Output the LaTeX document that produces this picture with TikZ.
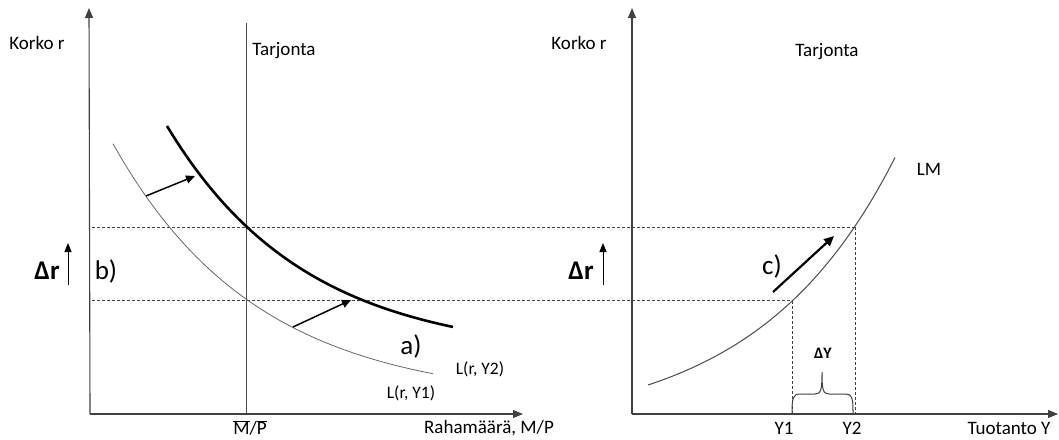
\documentclass[tikz,border=0pt]{standalone}
\usepackage{fontspec}
\setmainfont{Carlito}
\usetikzlibrary{arrows.meta}
\tikzset{
  axis/.style={draw=black!75, line width=1.1pt, -{Triangle[length=10pt,width=8pt]}},
  supply/.style={draw=black!70, line width=1pt},
  guide/.style={draw=black!75, line width=0.7pt, dash pattern=on 3pt off 2pt},
  thincurve/.style={draw=black!60, line width=0.8pt},
  thickcurve/.style={draw=black, line width=2.6pt},
  lmcurve/.style={draw=black!70, line width=1pt},
  shift arrow/.style={draw=black, line width=1.5pt, -{Triangle[length=9pt,width=8pt]}},
  big arrow/.style={draw=black, line width=2.2pt, -{Triangle[length=10pt,width=9pt]}},
  up arrow/.style={draw=black, line width=1pt, -{Triangle[length=9pt,width=7pt]}},
  lab/.style={inner sep=0pt, font=\fontsize{19}{22}\selectfont},
  llab/.style={inner sep=0pt, font=\fontsize{17.5}{20}\selectfont},
  biglab/.style={inner sep=0pt, font=\fontsize{27}{32}\selectfont},
  dlab/.style={inner sep=0pt, font=\bfseries\fontsize{27}{30}\selectfont},
  dylab/.style={inner sep=0pt, font=\bfseries\fontsize{16}{18}\selectfont},
}
\begin{document}
\begin{tikzpicture}[x=1pt,y=-1pt]
\useasboundingbox (0,0) rectangle (1059,439);
% ---------- left panel ----------
\coordinate (O1) at (90,414);
\coordinate (Y1top) at (89,8);
\coordinate (X1end) at (523,414);
\coordinate (S1top) at (246,23);
\coordinate (S1bot) at (246,414);
\coordinate (H2a) at (92,227);
\coordinate (H2b) at (855,227);
\coordinate (H1a) at (92,300);
\coordinate (H1b) at (792,300);
\draw[guide] (H2a) -- (H2b);
\draw[guide] (H1a) -- (H1b);
\draw[axis] (O1) -- (Y1top);
\draw[axis] (O1) -- (X1end);
\draw[supply] (S1top) -- (S1bot);
\draw[thincurve] plot[domain=113:433, samples=80, smooth] (\x, {402 - 258.3*exp(-0.00691*(\x-113))});
\draw[thickcurve] plot[domain=167:453, samples=80, smooth] (\x, {356 - 230*exp(-0.00723*(\x-167))});
\coordinate (a1s) at (146,196);
\coordinate (a1e) at (195,176);
\coordinate (a2s) at (293,327);
\coordinate (a2e) at (351,300);
\draw[shift arrow] (a1s) -- (a1e);
\draw[shift arrow] (a2s) -- (a2e);
\node[lab] (korko1) at (37,43) {Korko r};
\node[lab] (tarj1) at (284,51) {Tarjonta};
\node[dlab] (dr1) at (47,271) {Δr};
\coordinate (dr1b) at (68,285);
\coordinate (dr1t) at (68,243);
\draw[up arrow] (dr1b) -- (dr1t);
\node[biglab] (b) at (106,271) {b)};
\node[biglab] (a) at (411,346) {a)};
\node[llab] (LY2) at (480,369) {L(r, Y2)};
\node[llab] (LY1) at (411,393) {L(r, Y1)};
\node[lab] (MP) at (250,428) {$\overline{\mbox{M}}$/$\overline{\mbox{P}}$};
\node[lab] (raha) at (489,428) {Rahamäärä, M/P};
% ---------- right panel ----------
\coordinate (O2) at (632,414);
\coordinate (Y2top) at (632,8);
\coordinate (X2end) at (1058,414);
\draw[axis] (O2) -- (Y2top);
\draw[axis] (O2) -- (X2end);
\coordinate (P1) at (792,301);
\coordinate (P2) at (855,227);
\coordinate (P1b) at (792,414);
\coordinate (P2b) at (855,414);
\draw[guide] (P1) -- (P1b);
\draw[guide] (P2) -- (P2b);
\draw[lmcurve] plot[domain=648:895, samples=80, smooth] (\x, {430.6 - 45.6*exp(0.00725*(\x-648))});
\node[lab] (korko2) at (579,43) {Korko r};
\node[lab] (tarj2) at (827,52) {Tarjonta};
\node[lab] (LM) at (929,169) {LM};
\node[dlab] (dr2) at (581,271) {Δr};
\coordinate (dr2b) at (603,285);
\coordinate (dr2t) at (603,243);
\draw[up arrow] (dr2b) -- (dr2t);
\node[biglab] (c) at (772,266) {c)};
\coordinate (cs) at (773,292);
\coordinate (ce) at (834,236);
\draw[big arrow] (cs) -- (ce);
\draw[draw=black!75, line width=1pt] (792,413) .. controls (792,398) and (793,394) .. (800,394) -- (815,394) .. controls (821,394) and (822,390) .. (822,372) .. controls (822,390) and (823,394) .. (829,394) -- (846,394) .. controls (852,394) and (853,398) .. (853,413);
\node[dylab] (dY) at (823,353) {ΔY};
\node[lab] (Y1) at (784,428) {Y1};
\node[lab] (Y2) at (852,428) {Y2};
\node[lab] (tuot) at (1009,428) {Tuotanto Y};
\end{tikzpicture}
\end{document}
